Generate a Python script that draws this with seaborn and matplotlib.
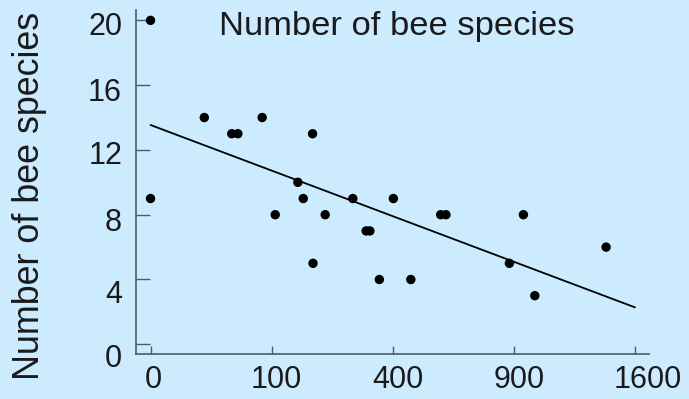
import numpy as np
import pandas as pd
import matplotlib
matplotlib.use("Agg")
import matplotlib.pyplot as plt
import matplotlib.transforms as mtransforms
import seaborn as sns

# Data
distance = [0, 0, 19.7, 45, 52, 85, 106, 148, 159, 179, 180, 208, 279,
            317, 328, 357, 402, 462, 574, 595, 878, 948, 1007, 1415]
species = [20, 9, 14, 13, 13, 14, 8, 10, 9, 13, 5, 8, 9,
           7, 7, 4, 9, 4, 8, 8, 5, 8, 3, 6]
fit_x = [0, 1600]
fit_y = [13.54, 2.28]
x_ticks = [0, 100, 400, 900, 1600]
y_ticks = [0, 4, 8, 12, 16, 20]
title = "Number of bee species"
ylabel = "Number of bee species"

sns.set_theme(style="white")
plt.rcParams['font.family'] = ['Liberation Sans', 'DejaVu Sans']

bg = "#CCEBFF"
txt = "#1a1a1a"
spine_c = "#4f5a62"

df = pd.DataFrame({"distance": distance, "species": species})
fit = pd.DataFrame({"x": fit_x, "y": fit_y})

fig = plt.figure(figsize=(6.89, 3.99), dpi=100, facecolor=bg)
ax = fig.add_axes([136/689, 1-354/399, (649-136)/689, (354-10)/399])
ax.set_facecolor(bg)

fwd = lambda x: np.sign(x) * np.sqrt(np.abs(x))
inv = lambda y: np.sign(y) * y**2
ax.set_xscale('function', functions=(fwd, inv))

sns.lineplot(data=fit, x="x", y="y", ax=ax, color="black", lw=1.3)
sns.scatterplot(data=df, x="distance", y="species", ax=ax, color="black",
                s=46, edgecolor="none", zorder=3)

ax.set_xlim(inv(-1.2), inv(41.16))
ax.set_ylim(-0.6, 20.64)
ax.set_xticks(x_ticks)
ax.set_xticklabels([str(v) for v in x_ticks])
ax.set_yticks(y_ticks)
ax.set_yticklabels([str(v) for v in y_ticks])
ax.minorticks_off()
ax.tick_params(axis='x', direction='in', length=6, width=1.0, color=spine_c,
               labelsize=22, labelcolor=txt, pad=8, bottom=True)
ax.tick_params(axis='y', direction='in', length=10, width=1.0, color=spine_c,
               labelsize=22, labelcolor=txt, pad=10, left=True)
for s in ['top', 'right']:
    ax.spines[s].set_visible(False)
for s in ['left', 'bottom']:
    ax.spines[s].set_color(spine_c)
    ax.spines[s].set_linewidth(1.2)
ax.set_xlabel("")
ax.set_ylabel("")

# small label offsets as in the reference (pixels)
x_off = [3, 5, 5, 5, 13]
y_off = [-11, -12, -5, -3, -4, -3]
for lab, dx in zip(ax.get_xticklabels(), x_off):
    lab.set_transform(lab.get_transform() +
                      mtransforms.ScaledTranslation(dx/100, 0, fig.dpi_scale_trans))
for lab, dy in zip(ax.get_yticklabels(), y_off):
    lab.set_transform(lab.get_transform() +
                      mtransforms.ScaledTranslation(0, dy/100, fig.dpi_scale_trans))

fig.text(397/689, 1-35/399, title, ha='center', va='baseline',
         fontsize=24.8, color=txt)
fig.text(30/689, 1-196/399, ylabel, ha='center', va='center', rotation=90,
         fontsize=25.8, color=txt)

fig.savefig("out.png", dpi=100, facecolor=bg)
